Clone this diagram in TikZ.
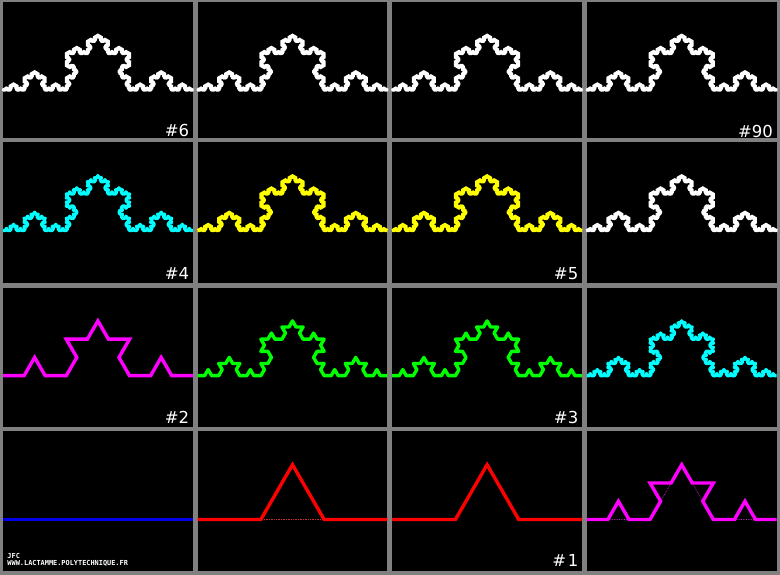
\documentclass[tikz,border=0pt]{standalone}
\usepackage{fontspec}
\setmainfont{DejaVu Sans}
\newfontfamily\tinymono{DejaVu Sans Mono}
\usetikzlibrary{lindenmayersystems}
\pgfdeclarelindenmayersystem{KochUp}{\rule{F -> F+F--F+F}}
\definecolor{gridgray}{RGB}{128,128,128}
\definecolor{kblue}{RGB}{0,0,235}
\definecolor{kcyan}{RGB}{0,255,255}
\definecolor{kmagenta}{RGB}{255,0,255}
\definecolor{kyellow}{RGB}{255,255,0}
\definecolor{kgreen}{RGB}{0,255,0}
\definecolor{kred}{RGB}{255,0,0}
\definecolor{kfaintred}{RGB}{200,40,60}
\definecolor{kfaintmag}{RGB}{200,40,200}
\begin{document}
\begin{tikzpicture}[x=1pt,y=1pt,
  panelbox/.style={fill=black},
  kochline/.style={line width=3.4pt, line join=round},
  lowline/.style={line width=3.4pt, line join=miter},
  faintline/.style={line width=0.7pt, densely dotted},
  lab/.style={text=white, font=\fontsize{16.5}{16.5}\selectfont, anchor=base east, inner sep=0pt},
  foot/.style={text=white, font=\tinymono\bfseries\fontsize{6.9}{6.9}\selectfont, anchor=base west, inner sep=0pt}]
\fill[gridgray] (0,0) rectangle (780,575);
\useasboundingbox (0,0) rectangle (780,575);
% panels
\foreach \cx in {3,197.6,392.2,586.8}{
  \foreach \ty/\by in {573/437.3, 432.5/292.3, 287.3/148.3, 143.5/4.3}{
    \fill[panelbox] (\cx,\by) rectangle ++(189.8,\ty-\by);
  }
}
% Koch curves: row 1 (baseline 485)
\draw[kochline,white,shift={(3,485)},l-system={KochUp, axiom=F, order=6, step=0.260357pt, angle=60}] (0,0) lindenmayer system;
\draw[kochline,white,shift={(197.6,485)},l-system={KochUp, axiom=F, order=6, step=0.260357pt, angle=60}] (0,0) lindenmayer system;
\draw[kochline,white,shift={(392.2,485)},l-system={KochUp, axiom=F, order=6, step=0.260357pt, angle=60}] (0,0) lindenmayer system;
\draw[kochline,white,shift={(586.8,485)},l-system={KochUp, axiom=F, order=6, step=0.260357pt, angle=60}] (0,0) lindenmayer system;
% row 2 (baseline 344.5)
\draw[kochline,kcyan,shift={(3,344.5)},l-system={KochUp, axiom=F, order=4, step=2.34321pt, angle=60}] (0,0) lindenmayer system;
\draw[kochline,kyellow,shift={(197.6,344.5)},l-system={KochUp, axiom=F, order=5, step=0.781070pt, angle=60}] (0,0) lindenmayer system;
\draw[kochline,kyellow,shift={(392.2,344.5)},l-system={KochUp, axiom=F, order=5, step=0.781070pt, angle=60}] (0,0) lindenmayer system;
\draw[kochline,white,shift={(586.8,344.5)},l-system={KochUp, axiom=F, order=6, step=0.260357pt, angle=60}] (0,0) lindenmayer system;
% row 3 (baseline 199.3)
\draw[lowline,kmagenta,shift={(3,199.3)},l-system={KochUp, axiom=F, order=2, step=21.0889pt, angle=60}] (0,0) lindenmayer system;
\draw[kochline,kgreen,shift={(197.6,199.3)},l-system={KochUp, axiom=F, order=3, step=7.02963pt, angle=60}] (0,0) lindenmayer system;
\draw[kochline,kgreen,shift={(392.2,199.3)},l-system={KochUp, axiom=F, order=3, step=7.02963pt, angle=60}] (0,0) lindenmayer system;
\draw[kochline,kcyan,shift={(586.8,199.3)},l-system={KochUp, axiom=F, order=4, step=2.34321pt, angle=60}] (0,0) lindenmayer system;
% row 4 (baseline 55.5)
\coordinate (b0s) at (3,55.5);
\coordinate (b0e) at (192.8,55.5);
\draw[lowline,kblue] (b0s) -- (b0e);
\coordinate (r1s) at (197.6,55.5);
\coordinate (r1e) at (387.4,55.5);
\draw[faintline,kfaintred] (r1s) -- (r1e);
\draw[lowline,kred,shift={(197.6,55.5)},l-system={KochUp, axiom=F, order=1, step=63.2667pt, angle=60}] (0,0) lindenmayer system;
\draw[lowline,kred,shift={(392.2,55.5)},l-system={KochUp, axiom=F, order=1, step=63.2667pt, angle=60}] (0,0) lindenmayer system;
\draw[faintline,kfaintmag,shift={(586.8,55.5)},l-system={KochUp, axiom=F, order=1, step=63.2667pt, angle=60}] (0,0) lindenmayer system;
\draw[lowline,kmagenta,shift={(586.8,55.5)},l-system={KochUp, axiom=F, order=2, step=21.0889pt, angle=60}] (0,0) lindenmayer system;
% labels
\node[lab] (l6) at (189.3,438) {\#6};
\node[lab] (l90) at (773.1,437.7) {\#90};
\node[lab] (l4) at (189.3,295) {\#4};
\node[lab] (l5) at (578.5,295) {\#5};
\node[lab] (l2) at (189.3,151.7) {\#2};
\node[lab] (l3) at (578.5,151.7) {\#3};
\node[lab] (l1) at (578.5,8.3) {\#\kern1.5pt1};
% footer
\node[foot] (jfc) at (7.3,16) {JFC};
\node[foot] (www) at (7.3,9) {WWW.LACTAMME.POLYTECHNIQUE.FR};
\end{tikzpicture}
\end{document}
